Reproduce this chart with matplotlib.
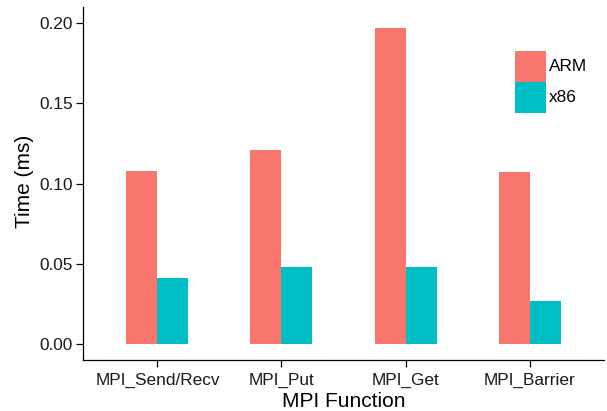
import matplotlib
matplotlib.use('Agg')
import matplotlib.pyplot as plt
import numpy as np
from matplotlib.patches import Patch

plt.rcParams['font.family'] = ['Liberation Sans', 'DejaVu Sans']

# 数据
functions = ['MPI_Send/Recv', 'MPI_Put', 'MPI_Get', 'MPI_Barrier']
arm_time = [0.108, 0.121, 0.197, 0.107]
x86_time = [0.041, 0.048, 0.048, 0.027]
series_labels = ['ARM', 'x86']
yticks = [0.00, 0.05, 0.10, 0.15, 0.20]

colors = ['#F8766D', '#00BFC4']
W, H = 607, 411
tick_fs = 12.4
title_fs = 15

fig = plt.figure(figsize=(W / 100, H / 100), dpi=100)
ax = fig.add_axes([83 / W, (H - 360) / H, (604 - 83) / W, (360 - 7) / H])

x = np.arange(1, len(functions) + 1)
bw = 0.25
ax.bar(x - bw / 2, arm_time, width=bw, color=colors[0], linewidth=0)
ax.bar(x + bw / 2, x86_time, width=bw, color=colors[1], linewidth=0)

ax.set_xlim(0.4, 4.6)
ax.set_ylim(-0.00998, 0.2101)
ax.set_xticks(x)
ax.set_xticklabels(functions)
ax.set_yticks(yticks)
ax.set_yticklabels([f'{v:.2f}' for v in yticks])

# 经典主题：只保留左、下轴线
for side in ['top', 'right']:
    ax.spines[side].set_visible(False)
for side in ['left', 'bottom']:
    ax.spines[side].set_linewidth(0.9)
    ax.spines[side].set_color('black')
ax.tick_params(axis='both', length=5, width=0.9,
               labelsize=tick_fs, colors='black', labelcolor='#1a1a1a')
ax.tick_params(axis='x', pad=4.2)
ax.tick_params(axis='y', pad=2.2)

ax.set_xlabel('MPI Function', fontsize=title_fs)
ax.set_ylabel('Time (ms)', fontsize=title_fs)
ax.xaxis.set_label_coords(343.5 / W, 1 - 391.5 / H, transform=fig.transFigure)
ax.yaxis.set_label_coords(33.5 / W, 1 - 181.5 / H, transform=fig.transFigure)

# 图例
handles = [Patch(facecolor=c, edgecolor='none') for c in colors]
fpx = tick_fs * 100 / 72
hh = (31 / fpx - 0.245) / 0.65
ax.legend(handles, series_labels, loc='upper left',
          bbox_to_anchor=(515 / W, 1 - 50.7 / H), bbox_transform=fig.transFigure,
          frameon=False, fontsize=tick_fs, borderpad=0, borderaxespad=0,
          labelspacing=0, handlelength=31 / fpx,
          handleheight=hh, handletextpad=0.17)

fig.savefig('out.png', dpi=100)
